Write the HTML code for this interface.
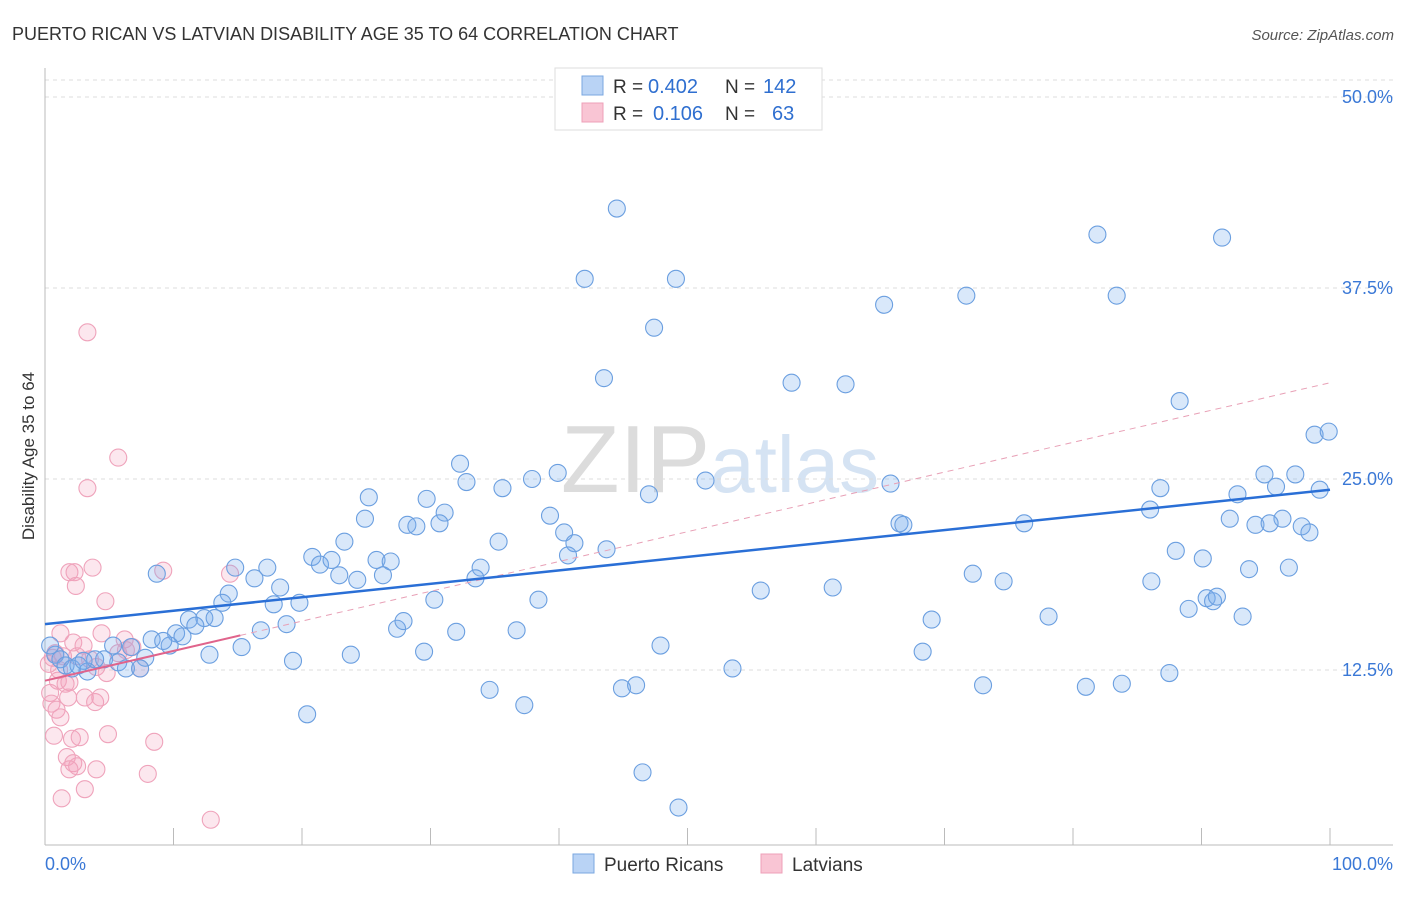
<!DOCTYPE html>
<html><head><meta charset="utf-8"><style>
body{margin:0;background:#fff;font-family:"Liberation Sans",sans-serif;}
svg text{font-family:"Liberation Sans",sans-serif;}
</style></head><body>
<svg id="chart" width="1406" height="892" viewBox="0 0 1406 892">
<text x="12" y="40" font-size="18" fill="#333">PUERTO RICAN VS LATVIAN DISABILITY AGE 35 TO 64 CORRELATION CHART</text>
<text x="1394" y="40" font-size="15" fill="#555" font-style="italic" text-anchor="end">Source: ZipAtlas.com</text>
<text x="720" y="492" font-size="96" fill="#e6e6e6" text-anchor="middle" font-family="Liberation Serif"><tspan fill="#dcdcdc">ZIP</tspan><tspan fill="#d5e3f3" font-family="Liberation Sans" font-size="80">atlas</tspan></text>
<g id="grid"></g><g id="axes"></g><g id="pink"></g><g id="blue"></g><g id="lines"></g>
<text transform="translate(34,456) rotate(-90)" font-size="17" fill="#333" text-anchor="middle">Disability Age 35 to 64</text>
<g>
<rect x="555" y="68" width="267" height="62" fill="#fff" stroke="#ddd"/>
<rect x="582" y="76" width="21" height="19" fill="#b9d3f5" stroke="#7aa7e0"/>
<rect x="582" y="103" width="21" height="19" fill="#f9c5d4" stroke="#eea0b8"/>
<text x="613" y="93" font-size="19" fill="#333">R =</text>
<text x="648" y="93" font-size="20" fill="#2f6fd0">0.402</text>
<text x="725" y="93" font-size="19" fill="#333">N =</text>
<text x="763" y="93" font-size="20" fill="#2f6fd0">142</text>
<text x="613" y="120" font-size="19" fill="#333">R =</text>
<text x="653" y="120" font-size="20" fill="#2f6fd0">0.106</text>
<text x="725" y="120" font-size="19" fill="#333">N =</text>
<text x="772" y="120" font-size="20" fill="#2f6fd0">63</text>
</g>
<g>
<rect x="573" y="854" width="21" height="19" fill="#b9d3f5" stroke="#7aa7e0"/>
<text x="604" y="871" font-size="19" fill="#333">Puerto Ricans</text>
<rect x="761" y="854" width="21" height="19" fill="#f9c5d4" stroke="#eea0b8"/>
<text x="792" y="871" font-size="19" fill="#333">Latvians</text>
</g>
</svg>
<script>
const yTicks=[12.5,25,37.5,50];
const yTickLabels=["12.5%","25.0%","37.5%","50.0%"];
const xTicks=[0,10,20,30,40,50,60,70,80,90,100];
const blueX=[44.5,42.0,49.1,47.4,43.5,58.1,62.3,65.3,71.7,81.9,83.4,91.6,88.3,98.8,99.9,94.9,97.3,95.8,99.2,86.8,92.8,86.0,92.2,96.3,94.2,95.3,97.8,98.4,76.2,66.5,66.8,65.8,51.4,47.0,39.9,37.9,32.3,32.8,35.6,25.2,29.7,39.3,40.4,41.2,43.7,40.7,31.1,30.7,28.2,28.9,24.9,23.3,35.3,20.8,21.4,22.3,25.8,26.9,22.9,24.3,26.3,33.9,33.5,17.3,14.8,16.3,18.3,8.7,14.3,13.8,17.8,19.8,11.2,12.4,13.2,11.7,10.2,10.7,9.7,8.3,9.2,6.7,5.3,7.8,4.6,5.7,6.3,7.4,16.8,18.8,15.3,12.8,19.3,23.8,27.4,27.9,30.3,32.0,29.5,36.7,38.4,20.4,34.6,37.3,44.9,46.0,47.9,53.5,46.5,49.3,55.7,61.3,69.0,68.3,73.0,72.2,74.6,78.1,81.0,83.8,87.5,86.1,88.0,90.1,89.0,90.4,90.9,91.2,93.2,93.7,96.8,0.8,1.2,1.6,2.1,2.6,3.3,3.9,0.4,3.0];
const blueY=[42.7,38.1,38.1,34.9,31.6,31.3,31.2,36.4,37.0,41.0,37.0,40.8,30.1,27.9,28.1,25.3,25.3,24.5,24.3,24.4,24.0,23.0,22.4,22.4,22.0,22.1,21.9,21.5,22.1,22.1,22.0,24.7,24.9,24.0,25.4,25.0,26.0,24.8,24.4,23.8,23.7,22.6,21.5,20.8,20.4,20.0,22.8,22.1,22.0,21.9,22.4,20.9,20.9,19.9,19.4,19.7,19.7,19.6,18.7,18.4,18.7,19.2,18.5,19.2,19.2,18.5,17.9,18.8,17.5,16.9,16.8,16.9,15.8,15.9,15.9,15.4,14.9,14.7,14.1,14.5,14.4,14.0,14.1,13.3,13.2,13.0,12.6,12.6,15.1,15.5,14.0,13.5,13.1,13.5,15.2,15.7,17.1,15.0,13.7,15.1,17.1,9.6,11.2,10.2,11.3,11.5,14.1,12.6,5.8,3.5,17.7,17.9,15.8,13.7,11.5,18.8,18.3,16.0,11.4,11.6,12.3,18.3,20.3,19.8,16.5,17.2,17.0,17.3,16.0,19.1,19.2,13.5,13.2,12.8,12.6,12.8,12.4,13.2,14.1,13.1];
const pinkX=[1.9,2.3,3.7,2.4,4.7,9.2,14.4,4.4,1.2,2.2,3.0,6.2,6.8,0.8,1.4,2.5,3.5,4.0,4.8,5.7,7.4,1.0,1.6,0.4,0.5,0.9,1.2,1.8,3.1,3.9,0.7,2.1,2.7,4.9,8.5,1.7,2.2,2.5,1.9,4.0,8.0,3.1,1.3,12.9,3.3,5.7,3.3,4.3,1.9,6.3,0.3,0.6,1.1];
const pinkY=[18.9,18.9,19.2,18.0,17.0,19.0,18.8,14.9,14.9,14.3,14.1,14.5,14.0,13.6,13.4,13.4,13.2,12.7,12.3,13.6,12.6,11.8,11.6,11.0,10.3,9.9,9.4,10.7,10.7,10.4,8.2,8.0,8.1,8.3,7.8,6.8,6.4,6.2,6.0,6.0,5.7,4.7,4.1,2.7,34.6,26.4,24.4,10.7,11.7,13.8,12.9,13.3,12.5];
const blueTrend=[15.5,24.3];
const pinkTrend=[11.8,31.3];
const pinkSolidEnd=15.2;
const NS="http://www.w3.org/2000/svg";
const X0=45,X1=1330,YB=861,PXY=15.28;
const sx=v=>X0+v*(X1-X0)/100, sy=v=>YB-v*PXY;
function mk(tag,attrs,parent){const e=document.createElementNS(NS,tag);for(const k in attrs)e.setAttribute(k,attrs[k]);parent.appendChild(e);return e;}
const grid=document.getElementById('grid'),axes=document.getElementById('axes');
mk('line',{x1:45,x2:1393,y1:80,y2:80,stroke:'#ddd','stroke-dasharray':'4,4'},grid);
yTicks.forEach((t,i)=>{
 const l=mk('line',{x1:45,x2:1393,y1:sy(t),y2:sy(t),stroke:'#ddd','stroke-dasharray':'4,4'},grid);
 
 
 const tx=mk('text',{x:1393,y:sy(t)+6,'font-size':18,fill:'#3a78d6','text-anchor':'end'},grid);
 tx.textContent=yTickLabels[i];
 
 
});
mk('line',{x1:45,x2:45,y1:68,y2:845,stroke:'#bbb'},axes);
mk('line',{x1:45,x2:1393,y1:845,y2:845,stroke:'#bbb'},axes);
xTicks.forEach(t=>{const l=mk('line',{x1:sx(t),x2:sx(t),y1:828,y2:845,stroke:'#bbb'},axes);
 
 });
const xl0=mk('text',{x:45,y:870,'font-size':18,fill:'#3a78d6'},axes);xl0.textContent='0.0%';


const xl1=mk('text',{x:1393,y:870,'font-size':18,fill:'#3a78d6','text-anchor':'end'},axes);xl1.textContent='100.0%';


const pg=document.getElementById('pink'),bg=document.getElementById('blue');
pinkX.forEach((x,i)=>{const c=mk('circle',{cx:sx(x),cy:sy(pinkY[i]),r:8.5,fill:'rgba(245,160,188,0.25)',stroke:'#efa3bb','stroke-width':1.1},pg);
 
 });
blueX.forEach((x,i)=>{const c=mk('circle',{cx:sx(x),cy:sy(blueY[i]),r:8.5,fill:'rgba(120,172,238,0.28)',stroke:'#6b9fe0','stroke-width':1.1},bg);
 
 });
const lg=document.getElementById('lines');
const pd=mk('line',{x1:sx(pinkSolidEnd),y1:sy(pinkTrend[0]+(pinkTrend[1]-pinkTrend[0])*pinkSolidEnd/100),x2:sx(100),y2:sy(pinkTrend[1]),stroke:'#e8a0b6','stroke-width':1,'stroke-dasharray':'6,5'},lg);


const ps=mk('line',{x1:sx(0),y1:sy(pinkTrend[0]),x2:sx(pinkSolidEnd),y2:sy(pinkTrend[0]+(pinkTrend[1]-pinkTrend[0])*pinkSolidEnd/100),stroke:'#e0648c','stroke-width':2},lg);


const bl=mk('line',{x1:sx(0),y1:sy(blueTrend[0]),x2:sx(100),y2:sy(blueTrend[1]),stroke:'#2a6fd6','stroke-width':2.5},lg);


</script>
</body></html>
